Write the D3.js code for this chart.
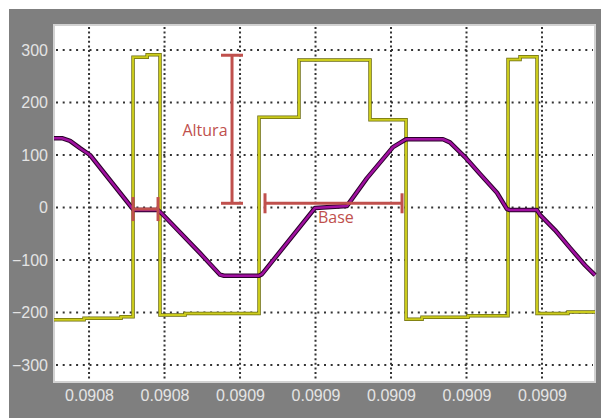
<!DOCTYPE html>
<html><head><meta charset="utf-8">
<script src="https://cdn.jsdelivr.net/npm/d3@7"></script>
<style>html,body{margin:0;padding:0;background:#fff;}svg{display:block;}</style>
</head><body>
<svg id="chart" width="601" height="418"></svg>
<script>
// x in grid divisions (tick index), labels as shown
const xTicks = [0, 1, 2, 3, 4, 5, 6];
const xTickLabels = ["0.0908", "0.0908", "0.0909", "0.0909", "0.0909", "0.0909", "0.0909"];
const yTicks = [300, 200, 100, 0, -100, -200, -300];

// yellow (stepped) signal: value holds from t[i] to t[i+1]
const yellowT = [-0.464, -0.066, 0.424, 0.583, 0.77, 0.940, 1.272, 2.252, 2.781, 3.722, 4.199, 4.411, 5.020, 5.550, 5.709, 5.934, 6.344, 6.702];
const yellowV = [-214, -211, -208, 286, 291, -205, -202, 172, 281, 167, -213, -209, -206, 282, 287, -202, -199, -199];

// purple signal
const purpleT = [-0.464, -0.358, -0.252, -0.119, 0.013, 0.570, 0.596, 0.914, 0.967, 1.470, 1.735, 1.788, 2.252, 2.291, 2.993, 3.417, 3.682, 4.026, 4.119, 4.199, 4.689, 4.781, 4.980, 5.179, 5.404, 5.536, 5.576, 5.934, 5.974, 6.172, 6.371, 6.570, 6.702];
const purpleV = [132, 132, 127, 113, 100, -1, -5, -5, -12, -87, -128, -130, -130, -127, -1, 3, 56, 115, 123, 130, 130, 124, 96, 64, 28, -3, -5, -5, -14, -43, -77, -110, -129];

// annotations
const alturaT = 1.894, alturaTop = 290, alturaBottom = 8;
const baseV = 8, baseT0 = 2.331, baseT1 = 4.146;
const smallV = -3, smallT0 = 0.583, smallT1 = 0.914;
const alturaLabel = {text: "Altura", t: 1.536, v: 148};
const baseLabel = {text: "Base", t: 3.27, v: -18};

const svg = d3.select("#chart");
const L = 54, R = 595, T = 25, B = 382;
const x = d3.scaleLinear().domain([-0.464, 6.702]).range([L, R]);
const y = d3.scaleLinear().domain([-332.4, 347.6]).range([B, T]);

svg.append("rect").attr("x", 9).attr("y", 9).attr("width", 592).attr("height", 409).attr("fill", "#7f7f7f");
svg.append("rect").attr("x", L).attr("y", T).attr("width", R - L).attr("height", B - T)
  .attr("fill", "#fff").attr("stroke", "#d2d2d2").attr("stroke-width", 2);

const grid = svg.append("g");
grid.selectAll("line.h").data(yTicks).join("line").attr("class", "h")
  .attr("x1", L + 2).attr("x2", R - 2).attr("y1", d => y(d)).attr("y2", d => y(d))
  .attr("stroke", "#333").attr("stroke-width", 2).attr("stroke-dasharray", "2,4.7");
grid.selectAll("line.v").data(xTicks).join("line").attr("class", "v")
  .attr("x1", d => x(d)).attr("x2", d => x(d)).attr("y1", T + 2).attr("y2", B - 2)
  .attr("stroke", "#333").attr("stroke-width", 2).attr("stroke-dasharray", "2,2.6");

// axes (labels only, outside plot)
const yAxis = d3.axisLeft(y).tickValues(yTicks).tickSize(0).tickPadding(6);
const gy = svg.append("g").attr("transform", `translate(${L},0)`).call(yAxis);
const xAxis = d3.axisBottom(x).tickValues(xTicks).tickSize(0).tickPadding(8).tickFormat((d, i) => xTickLabels[i]);
const gx = svg.append("g").attr("transform", `translate(0,${B})`).call(xAxis);
[gy, gx].forEach(g => {
  g.select(".domain").remove();
  g.selectAll("text").attr("fill", "#e4e4e4").style("font-family", "'Liberation Sans', Arial, sans-serif").style("font-size", "16px");
});

// yellow signal
const yPts = yellowT.map((t, i) => [t, yellowV[i]]);
const stepLine = d3.line().x(d => x(d[0])).y(d => y(d[1])).curve(d3.curveStepAfter);
svg.append("path").attr("d", stepLine(yPts)).attr("fill", "none").attr("stroke", "#6b6b10").attr("stroke-width", 3.5);
svg.append("path").attr("d", stepLine(yPts)).attr("fill", "none").attr("stroke", "#cccc1c").attr("stroke-width", 2);

// purple signal
const pPts = purpleT.map((t, i) => [t, purpleV[i]]);
const line = d3.line().x(d => x(d[0])).y(d => y(d[1]));
svg.append("path").attr("d", line(pPts)).attr("fill", "none").attr("stroke", "#2a002a").attr("stroke-width", 4.5).attr("stroke-linejoin", "round");
svg.append("path").attr("d", line(pPts)).attr("fill", "none").attr("stroke", "#a010a0").attr("stroke-width", 2.5).attr("stroke-linejoin", "round");

// annotations
const red = "#c0504d";
const ann = svg.append("g").attr("stroke", red).attr("stroke-width", 3);
// Altura
ann.append("line").attr("x1", x(alturaT)).attr("x2", x(alturaT)).attr("y1", y(alturaTop)).attr("y2", y(alturaBottom));
ann.append("line").attr("x1", x(alturaT) - 11).attr("x2", x(alturaT) + 11).attr("y1", y(alturaTop)).attr("y2", y(alturaTop));
ann.append("line").attr("x1", x(alturaT) - 11).attr("x2", x(alturaT) + 11).attr("y1", y(alturaBottom)).attr("y2", y(alturaBottom));
// Base
ann.append("line").attr("x1", x(baseT0)).attr("x2", x(baseT1)).attr("y1", y(baseV)).attr("y2", y(baseV));
ann.append("line").attr("x1", x(baseT0)).attr("x2", x(baseT0)).attr("y1", y(baseV) - 10).attr("y2", y(baseV) + 10);
ann.append("line").attr("x1", x(baseT1)).attr("x2", x(baseT1)).attr("y1", y(baseV) - 10).attr("y2", y(baseV) + 10);
// small segment
ann.append("line").attr("x1", x(smallT0)).attr("x2", x(smallT1)).attr("y1", y(smallV)).attr("y2", y(smallV));
ann.append("line").attr("x1", x(smallT0)).attr("x2", x(smallT0)).attr("y1", y(smallV) - 12).attr("y2", y(smallV) + 12);
ann.append("line").attr("x1", x(smallT1)).attr("x2", x(smallT1)).attr("y1", y(smallV) - 12).attr("y2", y(smallV) + 12);

[alturaLabel, baseLabel].forEach(l => {
  svg.append("text").attr("x", x(l.t)).attr("y", y(l.v)).attr("text-anchor", "middle").attr("dominant-baseline", "central")
    .attr("fill", red).style("font-family", "'Open Sans', sans-serif").style("font-size", "16px").text(l.text);
});
</script>
</body></html>
